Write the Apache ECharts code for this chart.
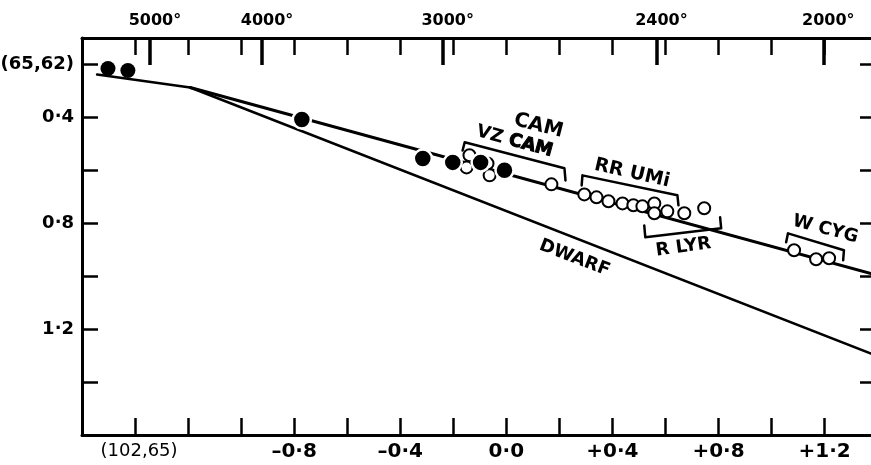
<!DOCTYPE html>
<html>
<head>
<meta charset="utf-8">
<script src="https://cdn.jsdelivr.net/npm/echarts@6/dist/echarts.min.js"></script>
<style>
  html, body { margin: 0; padding: 0; background: #fff; }
  #chart { width: 871px; height: 465px; }
</style>
</head>
<body>
<div id="chart"></div>
<script>
// Bottom axis: colour index; top axis: temperature; left axis: ordinate growing downward.
const xTickVals  = [-1.4, -1.2, -1.0, -0.8, -0.6, -0.4, -0.2, 0, 0.2, 0.4, 0.6, 0.8, 1.0, 1.2];
const xLabelVals = [-1.4, -0.8, -0.4, 0, 0.4, 0.8, 1.2];
const xLabelText = ['(102,65)', '–0·8', '–0·4', '0·0', '+0·4', '+0·8', '+1·2'];

const yTickVals  = [0.2, 0.4, 0.6, 0.8, 1.0, 1.2, 1.4];
const yLabelVals = [0.2, 0.4, 0.8, 1.2];
const yLabelText = ['(65,62)', '0·4', '0·8', '1·2'];

const tempVals = [-1.344, -0.921, -0.240, 0.566, 1.195];
const tempText = ['5000°', '4000°', '3000°', '2400°', '2000°'];

// Dwarf sequence and the giant branch leaving it at the knee.
const dwarfX = [-1.543, -1.192, 1.375];
const dwarfY = [0.238, 0.287, 1.292];
const giantX = [-1.192, 1.375];
const giantY = [0.287, 0.990];

// Filled points.
const solidX = [-1.502, -1.427, -0.771, -0.315, -0.202, -0.097, -0.007];
const solidY = [0.215, 0.223, 0.408, 0.555, 0.570, 0.570, 0.600];

// Open points, by group.
const vzCamX = [-0.139, -0.150, -0.071, -0.063, 0.170];
const vzCamY = [0.543, 0.589, 0.574, 0.619, 0.653];
const rrUmiX = [0.294, 0.340, 0.385, 0.438, 0.479, 0.513, 0.558];
const rrUmiY = [0.691, 0.702, 0.717, 0.725, 0.732, 0.736, 0.725];
const rLyrX  = [0.558, 0.607, 0.671, 0.746];
const rLyrY  = [0.762, 0.755, 0.762, 0.743];
const wCygX  = [1.085, 1.168, 1.217];
const wCygY  = [0.902, 0.936, 0.932];

// Group brackets.
const vzBracketX = [-0.165, -0.157, 0.219, 0.223];
const vzBracketY = [0.525, 0.494, 0.592, 0.638];
const rrBracketX = [0.284, 0.287, 0.645, 0.649];
const rrBracketY = [0.657, 0.619, 0.694, 0.732];
const rlBracketX = [0.520, 0.524, 0.810, 0.806];
const rlBracketY = [0.808, 0.853, 0.819, 0.777];
const wcBracketX = [1.055, 1.062, 1.273, 1.270];
const wcBracketY = [0.872, 0.838, 0.902, 0.940];

const FONT = 'DejaVu Sans';
const INK = '#000';

const pts = (xs, ys) => xs.map((x, i) => [x, ys[i]]);
const pick = (vals, texts) => v => {
  const i = vals.findIndex(t => Math.abs(t - v) < 1e-6);
  return i < 0 ? '' : texts[i];
};

const lineSeries = (xs, ys, w) => ({
  type: 'line', data: pts(xs, ys), symbol: 'none', silent: true,
  lineStyle: { color: INK, width: w, cap: 'round', join: 'round', opacity: 1 }, z: 2
});

const openSeries = (xs, ys) => ({
  type: 'scatter', data: pts(xs, ys), symbol: 'circle', symbolSize: 12, silent: true,
  itemStyle: { color: '#fff', borderColor: INK, borderWidth: 2, opacity: 1 }, z: 4
});

const solidSeries = {
  type: 'scatter', silent: true, z: 5,
  itemStyle: { opacity: 1 },
  data: pts(solidX, solidY).map(p => p[0] < -1.2
    ? { value: p, symbolSize: 15, itemStyle: { color: INK, borderWidth: 0, opacity: 1 } }
    : { value: p, symbolSize: 18, itemStyle: { color: INK, borderColor: '#fff', borderWidth: 2.5, opacity: 1 } })
};

// Group names and the curve label.
const notes = [
  { text: 'CAM',    at: [0.121, 0.432], rotate: -14, size: 20 },
  { text: '{a|VZ} {b|CAM}', at: [0.031, 0.491], rotate: -15, size: 18 },
  { text: 'RR UMi', at: [0.474, 0.611], rotate: -13, size: 19 },
  { text: 'R LYR',  at: [0.668, 0.891], rotate: 8,   size: 18 },
  { text: 'W CYG',  at: [1.203, 0.823], rotate: -15, size: 18 },
  { text: 'DWARF',  at: [0.257, 0.932], rotate: -21, size: 18 }
];

const noteSeries = {
  type: 'scatter', symbolSize: 0, silent: true, z: 6,
  itemStyle: { opacity: 1 },
  data: notes.map(n => ({
    value: n.at,
    label: {
      show: true, position: 'inside', formatter: n.text, rotate: n.rotate,
      color: INK, opacity: 1, fontFamily: FONT, fontSize: n.size, fontWeight: 'bold',
      rich: {
        a: { fontFamily: FONT, fontSize: n.size, fontWeight: 'bold', color: INK },
        b: { fontFamily: FONT, fontSize: n.size, fontWeight: 'bold', color: INK, textBorderColor: INK, textBorderWidth: 1 }
      }
    }
  }))
};

const axisLine = { show: true, onZero: false, lineStyle: { color: INK, width: 3 } };
const tickStyle = { color: INK, width: 2.5 };

const option = {
  animation: false,
  backgroundColor: '#fff',
  grid: { left: 82, right: 0, top: 38, bottom: 30, containLabel: false, outerBoundsMode: 'none' },
  xAxis: [
    {
      type: 'value', position: 'bottom', min: -1.6, max: 1.375,
      axisLine: axisLine, splitLine: { show: false },
      axisTick: { show: true, inside: true, length: 17, customValues: xTickVals, lineStyle: tickStyle },
      axisLabel: {
        show: true, customValues: xLabelVals, margin: 7, color: INK,
        fontFamily: FONT, fontSize: 20, fontWeight: 'bold',
        formatter: v => {
          const t = pick(xLabelVals, xLabelText)(v);
          return t.startsWith('(') ? '{s|' + t + '}' : t;
        },
        rich: { s: { fontFamily: FONT, fontSize: 18, fontWeight: 'normal', color: INK, padding: [0, 0, 0, 8] } }
      }
    },
    {
      type: 'value', position: 'top', min: -1.6, max: 1.375,
      axisLine: axisLine, splitLine: { show: false },
      axisTick: { show: true, inside: true, length: 17, customValues: xTickVals, lineStyle: tickStyle },
      axisLabel: { show: false }
    },
    {
      type: 'value', position: 'top', min: -1.6, max: 1.375,
      axisLine: { show: false, onZero: false }, splitLine: { show: false },
      axisTick: { show: true, inside: true, length: 27, customValues: tempVals, lineStyle: { color: INK, width: 3.5 } },
      axisLabel: {
        show: true, customValues: tempVals, margin: 9, color: INK,
        fontFamily: FONT, fontSize: 16, fontWeight: 'bold',
        formatter: v => '{t|' + pick(tempVals, tempText)(v) + '}',
        rich: { t: { fontFamily: FONT, fontSize: 16, fontWeight: 'bold', color: INK, padding: [0, 0, 0, 10] } }
      }
    }
  ],
  yAxis: [
    {
      type: 'value', position: 'left', inverse: true, min: 0.1, max: 1.6,
      axisLine: axisLine, splitLine: { show: false },
      axisTick: { show: true, inside: true, length: 16, customValues: yTickVals, lineStyle: tickStyle },
      axisLabel: {
        show: true, customValues: yLabelVals, margin: 8, color: INK,
        fontFamily: FONT, fontSize: 18, fontWeight: 'bold',
        formatter: pick(yLabelVals, yLabelText)
      }
    },
    {
      type: 'value', position: 'right', inverse: true, min: 0.1, max: 1.6,
      axisLine: { show: false, onZero: false }, splitLine: { show: false },
      axisTick: { show: true, inside: true, length: 11, customValues: yTickVals, lineStyle: tickStyle },
      axisLabel: { show: false }
    }
  ],
  series: [
    lineSeries(dwarfX, dwarfY, 2.5),
    lineSeries(giantX, giantY, 3),
    lineSeries(vzBracketX, vzBracketY, 2.5),
    lineSeries(rrBracketX, rrBracketY, 2.5),
    lineSeries(rlBracketX, rlBracketY, 2.5),
    lineSeries(wcBracketX, wcBracketY, 2.5),
    openSeries(vzCamX, vzCamY),
    openSeries(rrUmiX, rrUmiY),
    openSeries(rLyrX, rLyrY),
    openSeries(wCygX, wCygY),
    solidSeries,
    noteSeries
  ]
};

const chart = echarts.init(document.getElementById('chart'), null, { renderer: 'canvas' });
chart.setOption(option);
</script>
</body>
</html>
